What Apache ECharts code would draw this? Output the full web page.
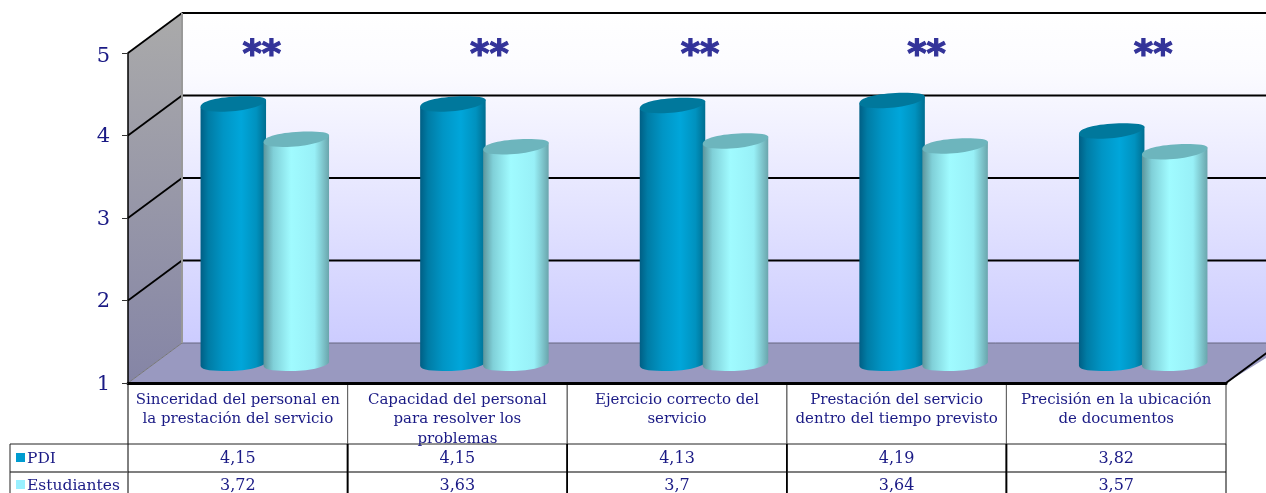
<!DOCTYPE html>
<html><head><meta charset="utf-8">
<style>html,body{margin:0;padding:0;background:#fff}#c{width:1266px;height:493px}</style>
<script src="https://cdn.jsdelivr.net/npm/echarts@6/dist/echarts.min.js"></script>
</head><body><div id="c"></div>
<script>
const categories = [
  'Sinceridad del personal en\nla prestación del servicio',
  'Capacidad del personal\npara resolver los\nproblemas',
  'Ejercicio correcto del\nservicio',
  'Prestación del servicio\ndentro del tiempo previsto',
  'Precisión en la ubicación\nde documentos'
];
const pdi = [4.15, 4.15, 4.13, 4.19, 3.82];
const estudiantes = [3.72, 3.63, 3.7, 3.64, 3.57];
const yTicks = [1, 2, 3, 4, 5];
const seriesNames = ['PDI', 'Estudiantes'];
const marks = ['**', '**', '**', '**', '**'];
const markShift = [1, 9, 0, 7, 14];

const FONT = '"DejaVu Serif"';
const INK = '#1a1a85';
const DEPTH = [54, -40];
const G = echarts.graphic.LinearGradient;

function wall(params, api) {
  const ch = [];
  const y1 = api.coord([0, 1]), y5 = api.coord([0, 5]);
  const xl = y1[0] - api.size([1, 0])[0] / 2;
  const xr = xl + api.size([1, 0])[0] * 5;
  const d = DEPTH;
  ch.push({type: 'polygon', shape: {points: [[xl + d[0], y5[1] + d[1]], [1290, y5[1] + d[1]], [1290, y1[1] + d[1]], [xl + d[0], y1[1] + d[1]]]},
    style: {fill: new G(0, 0, 0, 1, [{offset: 0, color: '#ffffff'}, {offset: 0.18, color: '#fbfbff'}, {offset: 1, color: '#ccccff'}])}});
  ch.push({type: 'polygon', shape: {points: [[xl, y5[1]], [xl + d[0], y5[1] + d[1]], [xl + d[0], y1[1] + d[1]], [xl, y1[1]]]},
    style: {fill: new G(0, 0, 0, 1, [{offset: 0, color: '#aaaaaa'}, {offset: 1, color: '#8585a6'}])}});
  ch.push({type: 'polygon', shape: {points: [[xl, y1[1]], [xl + d[0], y1[1] + d[1]], [1290, y1[1] + d[1]], [xr, y1[1]]]},
    style: {fill: '#9999c0'}});
  yTicks.forEach(function (t) {
    const p = api.coord([0, t]);
    if (t > 1) {
      ch.push({type: 'line', shape: {x1: xl + d[0], y1: p[1] + d[1], x2: 1290, y2: p[1] + d[1]}, style: {stroke: '#000', lineWidth: t === 5 ? 2 : 1.8}});
    } else {
      ch.push({type: 'line', shape: {x1: xl + d[0], y1: p[1] + d[1], x2: 1290, y2: p[1] + d[1]}, style: {stroke: '#666680', lineWidth: 1}});
    }
    ch.push({type: 'line', shape: {x1: xl, y1: p[1], x2: xl + d[0], y2: p[1] + d[1]}, style: {stroke: t === 1 ? '#777' : '#000', lineWidth: t === 1 ? 1 : 1.8}});
  });
  ch.push({type: 'line', shape: {x1: xl + d[0], y1: y5[1] + d[1], x2: xl + d[0], y2: y1[1] + d[1]}, style: {stroke: '#999', lineWidth: 2}});
  ch.push({type: 'line', shape: {x1: xr, y1: y1[1], x2: 1290, y2: y1[1] - 64 * 40 / 54}, style: {stroke: '#000', lineWidth: 2}});
  return {type: 'group', children: ch};
}

function cyl(stops, topColor, off) {
  return function (params, api) {
    const i = api.value(0), v = api.value(1);
    const top = api.coord([i, v]), base = api.coord([i, 1]);
    const w = 65.5, cx = top[0] + DEPTH[0] / 2 + off, h = w / 2;
    const xl = cx - h, xr = cx + h, yt = top[1] + DEPTH[1] / 2, yb = base[1] + DEPTH[1] / 2 + 2;
    const P = function (x, y) { return x + ' ' + y + ' '; };
    const body = 'M' + P(xl, yt + 3.5) + 'L' + P(xr, yt - 3.5) + 'L' + P(xr, yb - 3) +
      'C' + P(xr, yb + 1) + P(cx + 15, yb + 6) + P(cx - 5, yb + 6) +
      'C' + P(cx - 20, yb + 6) + P(xl + 1, yb + 5.5) + P(xl, yb + 1) + 'Z';
    const cap = 'M' + P(xl, yt + 3.5) +
      'C' + P(xl, yt - 3) + P(cx - 9, yt - 7) + P(cx + 11, yt - 7) +
      'C' + P(cx + 24, yt - 7) + P(xr, yt - 6) + P(xr, yt - 3.5) +
      'C' + P(xr, yt + 2.5) + P(cx + 11, yt + 8) + P(cx - 9, yt + 8.5) +
      'C' + P(cx - 22, yt + 8.5) + P(xl, yt + 8) + P(xl, yt + 3.5) + 'Z';
    return {type: 'group', children: [
      {type: 'path', shape: {pathData: body}, style: {fill: new G(0, 0, 1, 0, stops)}},
      {type: 'path', shape: {pathData: cap}, style: {fill: topColor}}
    ]};
  };
}

function table(params, api) {
  const i = api.value(0);
  const c = api.coord([i, 1]);
  const cw = api.size([1, 0])[0];
  const x0 = c[0] - cw / 2, x1 = c[0] + cw / 2, yy = [383, 444, 472, 493];
  const ch = [];
  const ln = function (a, b, e, f, col, lw) { ch.push({type: 'line', shape: {x1: a, y1: b, x2: e, y2: f}, style: {stroke: col, lineWidth: lw}}); };
  ln(x0, yy[0], x0, yy[1], i === 0 ? '#000' : '#666', 1);
  ln(x1, yy[0], x1, yy[1], i === 4 ? '#333' : '#666', 1);
  ln(x0, yy[1], x1, yy[1], '#222', 1);
  ln(x0, yy[2], x1, yy[2], '#555', 1.4);
  ln(x0, yy[1], x0, yy[3], '#000', i === 0 ? 1 : 1.6);
  ln(x1, yy[1], x1, yy[3], '#000', i === 4 ? 1 : 1.6);
  const cell = function (v, y) {
    ch.push({type: 'text', style: {text: String(v).replace('.', ','), x: c[0], y: y, align: 'center', verticalAlign: 'middle', font: '16px ' + FONT, fill: INK}});
  };
  cell(pdi[i], 459);
  cell(estudiantes[i], 486);
  ch.push({type: 'text', style: {text: marks[i], x: c[0] + DEPTH[0] / 2 - 4 + markShift[i], y: 56, align: 'center', verticalAlign: 'middle', font: 'bold 37px "DejaVu Sans"', fill: '#333399', stroke: '#333399', lineWidth: 1.2}});
  if (i === 0) {
    const lx = 10;
    ln(lx, yy[1], x0, yy[1], '#222', 1);
    ln(lx, yy[2], x0, yy[2], '#555', 1.4);
    ln(lx, yy[1], lx, yy[3], '#222', 1);
    [['#009cd0', 458], ['#99f0ff', 485]].forEach(function (s, k) {
      ch.push({type: 'rect', shape: {x: 16, y: s[1] - 5, width: 9, height: 9}, style: {fill: s[0]}});
      ch.push({type: 'text', style: {text: seriesNames[k], x: 27, y: s[1] + 1, align: 'left', verticalAlign: 'middle', font: '15.5px ' + FONT, fill: INK}});
    });
  }
  return {type: 'group', children: ch};
}

const chart = echarts.init(document.getElementById('c'), null, {renderer: 'canvas'});
chart.setOption({
  animation: false,
  backgroundColor: '#fff',
  grid: {left: 128, right: 40, top: 53, bottom: 110},
  xAxis: {
    type: 'category', data: categories, z: 20,
    axisLine: {lineStyle: {color: '#000', width: 3}},
    axisTick: {show: false},
    axisLabel: {interval: 0, margin: 7, color: INK, fontFamily: FONT, fontSize: 15, lineHeight: 19.5, verticalAlign: 'top', align: 'center'}
  },
  yAxis: {
    type: 'value', min: 1, max: 5, interval: 1, z: 20,
    splitLine: {show: false},
    axisLine: {show: true, lineStyle: {color: '#000', width: 1.5}},
    axisTick: {show: true, length: 6, lineStyle: {color: '#333', width: 1}},
    axisLabel: {
      margin: 18, verticalAlignMinLabel: 'middle', verticalAlignMaxLabel: 'middle',
      formatter: function (v) { return (v === 5 ? '{m|' : '{n|') + v + '}'; },
      rich: {
        n: {color: INK, fontFamily: FONT, fontSize: 21, padding: [3, 0, 0, 0]},
        m: {color: INK, fontFamily: FONT, fontSize: 21, padding: [7, 0, 0, 0]}
      }
    }
  },
  series: [
    {type: 'custom', name: 'pared', renderItem: wall, data: [[0, 1]], clip: false, silent: true, z: 1},
    {type: 'custom', name: seriesNames[0], z: 3, renderItem: cyl([{offset: 0, color: '#005f85'}, {offset: 0.12, color: '#007ca5'}, {offset: 0.35, color: '#0095c5'}, {offset: 0.62, color: '#00a6da'}, {offset: 0.85, color: '#0092bf'}, {offset: 1, color: '#006e90'}], '#00789c', -31.5), data: pdi.map(function (v, i) { return [i, v]; }), clip: false},
    {type: 'custom', name: seriesNames[1], z: 4, renderItem: cyl([{offset: 0, color: '#5c959c'}, {offset: 0.15, color: '#80d0d8'}, {offset: 0.42, color: '#a0fbff'}, {offset: 0.78, color: '#98f0f7'}, {offset: 1, color: '#6aa5ac'}], '#6db5bd', 31.5), data: estudiantes.map(function (v, i) { return [i, v]; }), clip: false},
    {type: 'custom', name: 'tabla', z: 5, renderItem: table, data: categories.map(function (c, i) { return [i, 1]; }), clip: false, silent: true}
  ]
});
</script></body></html>
